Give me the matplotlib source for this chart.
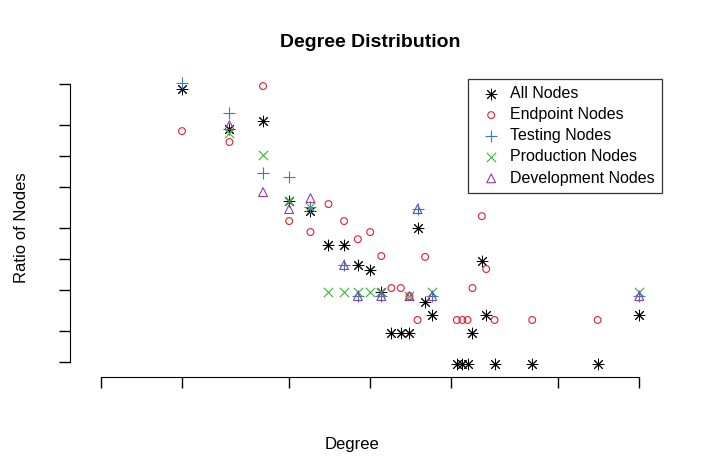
import matplotlib
matplotlib.use("Agg")
import matplotlib.pyplot as plt

plt.rcParams["font.family"] = ["Liberation Sans", "DejaVu Sans"]

all_deg = [2, 3, 4, 5, 6, 7, 8, 9, 10, 11, 12, 13, 14, 15, 16, 17, 21, 22, 23, 24, 26, 27, 29, 40, 70, 100]
all_ratio = [447, 183, 219, 36.6, 29.2, 13.7, 13.7, 8.75, 7.82, 4.78, 1.91, 1.91, 1.91, 20.0, 3.83, 2.86,
             0.96, 0.96, 0.96, 1.91, 9.57, 2.86, 0.96, 0.96, 0.96, 2.86]

end_deg = [2, 3, 4, 5, 6, 7, 8, 9, 10, 11, 12, 13, 14, 15, 16, 21, 22, 23, 24, 26, 27, 29, 40, 70]
end_ratio = [175, 137, 479, 23.4, 18.3, 34.2, 23.4, 15.6, 18.3, 10.7, 5.23, 5.23, 4.37, 2.56, 10.5,
             2.56, 2.56, 2.56, 5.23, 26.1, 8.0, 2.56, 2.56, 2.56]

test_deg = [2, 3, 4, 5, 6, 8, 9, 11, 15, 17, 100]
test_ratio = [512, 261, 68, 62.5, 32.0, 8.75, 4.37, 4.37, 30.6, 4.37, 4.37]

prod_deg = [3, 4, 5, 6, 7, 8, 9, 10, 11, 14, 17, 100]
prod_ratio = [167, 102, 36.6, 32.0, 4.78, 4.78, 4.78, 4.78, 4.78, 4.37, 4.78, 4.78]

dev_deg = [3, 4, 5, 6, 8, 9, 11, 14, 15, 17, 100]
dev_ratio = [200, 44.7, 30.6, 39.1, 8.75, 4.37, 4.37, 4.37, 30.6, 4.37, 4.37]

x_ticks = [1, 2, 5, 10, 20, 50, 100]
y_ticks = [1e-4, 2e-4, 5e-4, 1e-3, 2e-3, 5e-3, 1e-2, 2e-2, 5e-2]

fig = plt.figure(figsize=(7.03, 4.74), dpi=100)
ax = fig.add_axes([0.0996, 0.2046, 0.8534, 0.6474])

sc = 1e-4
ax.scatter(all_deg, [v * sc for v in all_ratio], marker=(8, 2, 0), s=60, color="black",
           linewidths=0.7, label="All Nodes")
ax.scatter(end_deg, [v * sc for v in end_ratio], marker="o", s=24, facecolors="none",
           edgecolors="#DF1F2F", linewidths=0.8, label="Endpoint Nodes")
ax.scatter(test_deg, [v * sc for v in test_ratio], marker="+", s=85, color="#2F7BD8",
           linewidths=0.8, label="Testing Nodes")
ax.scatter(prod_deg, [v * sc for v in prod_ratio], marker="x", s=45, color="#3FAF3F",
           linewidths=0.8, label="Production Nodes")
ax.scatter(dev_deg, [v * sc for v in dev_ratio], marker="^", s=40, facecolors="none",
           edgecolors="#8E3FA0", linewidths=0.8, label="Development Nodes")

ax.set_xscale("log")
ax.set_yscale("log")
ax.set_xlim(0.767, 130)
ax.set_ylim(0.715e-4, 0.0684)
ax.set_xticks(x_ticks)
ax.set_yticks(y_ticks)
ax.minorticks_off()
ax.set_xticklabels([])
ax.set_yticklabels([])
ax.tick_params(direction="out", length=8, width=1)
ax.spines["top"].set_visible(False)
ax.spines["right"].set_visible(False)
ax.spines["bottom"].set_bounds(1, 100)
ax.spines["left"].set_bounds(1e-4, 5e-2)

fig.text(0.5, 0.053, "Degree", ha="center", fontsize=12)
fig.text(0.02, 0.52, "Ratio of Nodes", rotation=90, va="center", fontsize=12)
fig.text(0.526, 0.9, "Degree Distribution", ha="center", fontsize=14, fontweight="bold")

leg = ax.legend(loc="upper right", bbox_to_anchor=(0.987, 0.971), fontsize=11.5, frameon=True,
                fancybox=False, edgecolor="black", handletextpad=0.2, borderpad=0.45,
                labelspacing=0.38, scatterpoints=1, borderaxespad=0)
leg.get_frame().set_linewidth(0.9)

fig.savefig("out.png", dpi=100)
